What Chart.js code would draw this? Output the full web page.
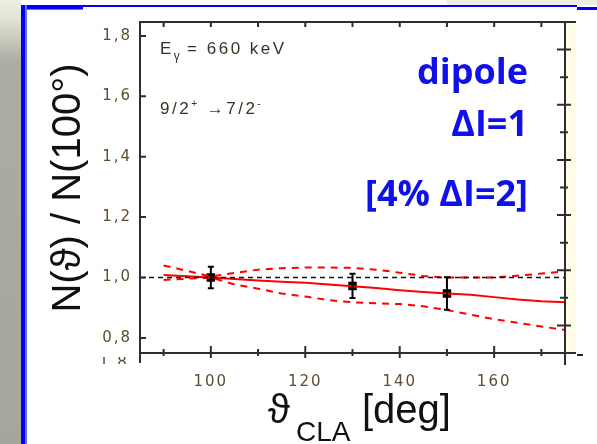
<!DOCTYPE html>
<html>
<head>
<meta charset="utf-8">
<script src="https://cdn.jsdelivr.net/npm/chart.js@4.4.1/dist/chart.umd.min.js"></script>
<style>
  body { margin: 0; width: 597px; height: 444px; overflow: hidden; background: #fff; position: relative; font-family: "Liberation Sans", Arial, sans-serif; }
  .abs { position: absolute; white-space: nowrap; }
  #leftStrip { left: 0; top: 0; width: 21px; height: 444px; background: linear-gradient(#eceee2 0px, #e2e4d6 18px, #abada2 62px, #a5a79c 444px); }
  #topGray { left: 447px; top: 0; width: 150px; height: 5px; background: #eceee2; }
  #blueLeft { left: 21px; top: 5px; width: 4px; height: 439px; background: #0000ff; border-right: 2px solid #7070ff; }
  #blueTopA { left: 21px; top: 5px; width: 62px; height: 4px; background: #0000ff; border-bottom: 1px solid #7070ff; }
  #blueTopB { left: 21px; top: 5px; width: 556px; height: 2px; background: #0000ff; }
  #blueTopC { left: 577px; top: 7px; width: 20px; height: 3px; background: #0000ff; }
  #yellow { left: 566px; top: 22px; width: 10px; height: 331px; background: #fffde6; }
  #wrap { left: 0; top: 0; width: 597px; height: 444px; }
  .note { color: #3a3226; font-size: 17px; letter-spacing: 2.5px; line-height: 17px; }
  .blue { color: #1010e8; font-family: "Open Sans", sans-serif; font-weight: bold; font-size: 36px; line-height: 36px; right: 69px; text-align: right; }
  .big { color: #111; line-height: 1; }
</style>
</head>
<body>
<div id="leftStrip" class="abs"></div>
<div id="topGray" class="abs"></div>
<div id="yellow" class="abs"></div>
<div id="wrap" class="abs"><canvas id="chart" width="597" height="444"></canvas></div>
<div id="blueTopB" class="abs"></div>
<div id="blueTopA" class="abs"></div>
<div id="blueTopC" class="abs"></div>
<div id="blueLeft" class="abs"></div>

<div class="abs note" style="left:160px; top:40px;">E<span style="font-size:12px; position:relative; top:6px; letter-spacing:0;">γ</span> = 660 keV</div>
<div class="abs note" style="left:160px; top:95px;">9/2<sup style="font-size:10px;">+</sup> →7/2<sup style="font-size:10px;">-</sup></div>

<div class="abs blue" style="top:53px;">dipole</div>
<div class="abs blue" style="top:105px;">ΔI=1</div>
<div class="abs blue" style="top:175px;">[4% ΔI=2]</div>

<div class="abs big" style="left:-84px; top:168px; width:300px; height:40px; font-size:40px; text-align:center; transform:rotate(-90deg);">N(ϑ) / N(100°)</div>
<div class="abs big" style="left:268px; top:389px; font-size:40px;">ϑ</div>
<div class="abs big" style="left:296px; top:418px; font-size:28px;">CLA</div>
<div class="abs big" style="left:362px; top:389px; font-size:40px;">[deg]</div>

<div class="abs" style="left:99px; top:357px; width:34px; height:7px; overflow:hidden;">
  <div style="position:relative; top:-2px; font-family:'DejaVu Sans'; font-size:15px; line-height:15px; letter-spacing:2px; color:#5e4d30;">1,8</div>
</div>
<div class="abs" style="left:577px; top:354px; width:6px; height:2px; background:#222;"></div>

<script>
// measured points
const angles = [100, 130, 150];
const ratio = [1.0, 0.972, 0.947];
const ratioErr = [0.036, 0.04, 0.054];

// fit curves
const fitAngles = [90, 95, 100, 105, 110, 115, 120, 125, 130, 135, 140, 145, 150, 155, 160, 165, 170, 175];
const fitMean = [1.008, 1.004, 1.0, 0.995, 0.99, 0.986, 0.983, 0.977, 0.971, 0.965, 0.958, 0.952, 0.947, 0.943, 0.935, 0.927, 0.921, 0.918];
const fitUpper = [1.04, 1.022, 1.003, 1.015, 1.026, 1.031, 1.033, 1.033, 1.032, 1.026, 1.016, 1.005, 1.0, 1.0, 1.0, 1.006, 1.013, 1.02];
const fitLower = [0.992, 0.996, 1.0, 0.977, 0.963, 0.947, 0.937, 0.925, 0.918, 0.915, 0.912, 0.905, 0.892, 0.877, 0.862, 0.85, 0.838, 0.826];

// reference line
const refAngles = [85, 175];
const refRatio = [1.0, 1.0];

// ticks
const xTicks = [90, 100, 110, 120, 130, 140, 150, 160, 170];
const xLabelTicks = [100, 120, 140, 160];
const yTicks = [0.8, 1.0, 1.2, 1.4, 1.6, 1.8];
const yLabels = ["0,8", "1,0", "1,2", "1,4", "1,6", "1,8"];
const y2Ticks = [0, 0.5, 1, 1.5, 2, 2.5, 3, 3.5, 4, 4.5, 5];

const tickColor = "#5e4d30";
const axisColor = "#2e2e2e";

function pts(xs, ys) {
    return xs.map((x, i) => ({ x: x, y: ys[i] }));
}

const framePlugin = {
    id: "frame",
    beforeDraw(chart) {
        chart.ctx.letterSpacing = "2px";
    },
    afterDatasetsDraw(chart) {
        const ctx = chart.ctx;
        ctx.letterSpacing = "0px";
        const { left, right, top, bottom } = chart.chartArea;
        const xs = chart.scales.x, ys = chart.scales.y, y2 = chart.scales.y2;
        ctx.save();
        ctx.strokeStyle = axisColor;
        ctx.lineWidth = 2;
        ctx.beginPath();
        ctx.moveTo(left, top); ctx.lineTo(left, bottom + 10);
        ctx.moveTo(left - 1, bottom); ctx.lineTo(576, bottom);
        ctx.moveTo(left - 1, top); ctx.lineTo(576, top);
        ctx.moveTo(right, top); ctx.lineTo(right, bottom + 12);

        xs.ticks.forEach(t => {
            const px = xs.getPixelForValue(t.value);
            if (xLabelTicks.includes(t.value)) {
                ctx.moveTo(px, bottom - 7); ctx.lineTo(px, bottom + 5);
            } else {
                ctx.moveTo(px, bottom - 4); ctx.lineTo(px, bottom + 3);
            }
            ctx.moveTo(px, top); ctx.lineTo(px, top + 5);
        });
        ys.ticks.forEach(t => {
            const py = ys.getPixelForValue(t.value);
            ctx.moveTo(left, py); ctx.lineTo(left + 6, py);
        });
        y2.ticks.forEach(t => {
            const py = y2.getPixelForValue(t.value);
            if (Number.isInteger(t.value)) {
                ctx.moveTo(right - 8, py); ctx.lineTo(right + 6, py);
            } else {
                ctx.moveTo(right - 5, py); ctx.lineTo(right + 3, py);
            }
        });
        ctx.stroke();

        // error bars
        ctx.strokeStyle = "#000";
        ctx.lineWidth = 2;
        ctx.beginPath();
        angles.forEach((a, i) => {
            const px = xs.getPixelForValue(a);
            const yTop = ys.getPixelForValue(ratio[i] + ratioErr[i]);
            const yBot = ys.getPixelForValue(ratio[i] - ratioErr[i]);
            ctx.moveTo(px, yTop); ctx.lineTo(px, yBot);
            ctx.moveTo(px - 3, yTop); ctx.lineTo(px + 3, yTop);
            ctx.moveTo(px - 3, yBot); ctx.lineTo(px + 3, yBot);
        });
        ctx.stroke();
        ctx.restore();
    }
};

new Chart(document.getElementById("chart"), {
    type: "line",
    data: {
        datasets: [
            { data: pts(refAngles, refRatio), borderColor: "#111", borderWidth: 1.5, borderDash: [5, 4], pointRadius: 0, tension: 0 },
            { data: pts(fitAngles, fitMean), borderColor: "#ff0000", borderWidth: 2, pointRadius: 0, tension: 0 },
            { data: pts(fitAngles, fitUpper), borderColor: "#ff0000", borderWidth: 2, borderDash: [7, 6], pointRadius: 0, tension: 0 },
            { data: pts(fitAngles, fitLower), borderColor: "#ff0000", borderWidth: 2, borderDash: [7, 6], pointRadius: 0, tension: 0 },
            { data: pts(angles, ratio), showLine: false, pointStyle: "rect", pointRadius: 6, backgroundColor: "#000", borderColor: "#000", borderWidth: 0 }
        ]
    },
    options: {
        responsive: false,
        animation: false,
        events: [],
        layout: { padding: { left: 0, top: 22, right: 32, bottom: 0 } },
        plugins: { legend: { display: false }, tooltip: { enabled: false } },
        scales: {
            x: {
                type: "linear", min: 85, max: 175,
                afterBuildTicks(s) { s.ticks = xTicks.map(v => ({ value: v })); },
                afterFit(s) { s.height = 91; },
                grid: { display: false, drawTicks: false },
                border: { display: false },
                ticks: {
                    autoSkip: false, padding: 20, color: tickColor, maxRotation: 0, minRotation: 0,
                    font: { family: "DejaVu Sans", size: 15 },
                    callback: v => (xLabelTicks.includes(v) ? String(v) : "")
                }
            },
            y: {
                type: "linear", min: 0.75, max: 1.846,
                afterBuildTicks(s) { s.ticks = yTicks.map(v => ({ value: v })); },
                afterFit(s) { s.width = 140; },
                grid: { display: false, drawTicks: false },
                border: { display: false },
                ticks: {
                    autoSkip: false, padding: 8, color: tickColor,
                    font: { family: "DejaVu Sans", size: 15 },
                    callback: (v, i) => yLabels[i]
                }
            },
            y2: {
                type: "linear", position: "right", min: -0.5, max: 5.5,
                afterBuildTicks(s) { s.ticks = y2Ticks.map(v => ({ value: v })); },
                afterFit(s) { s.width = 0; },
                grid: { display: false, drawTicks: false },
                border: { display: false },
                ticks: { display: false }
            }
        }
    },
    plugins: [framePlugin]
});
</script>
</body>
</html>
